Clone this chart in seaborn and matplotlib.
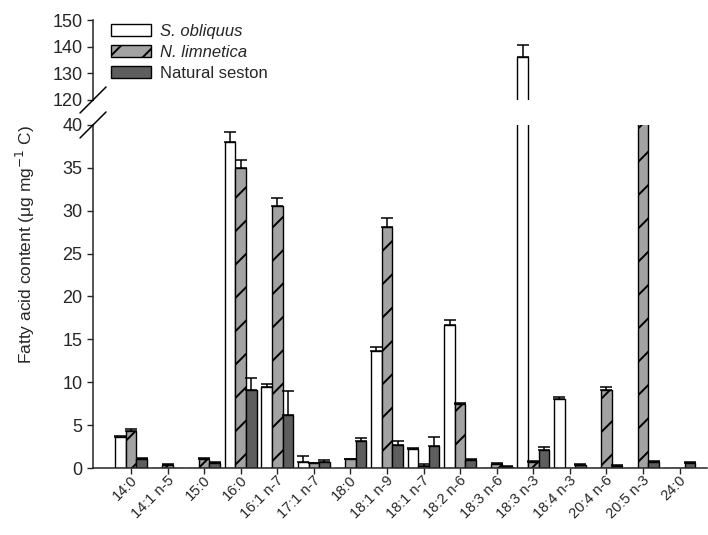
import numpy as np
import pandas as pd
import matplotlib
matplotlib.use("Agg")
import matplotlib.pyplot as plt
import matplotlib.transforms as mtransforms
import seaborn as sns
from matplotlib.patches import Patch
from matplotlib.lines import Line2D

# ---------------- data ----------------
categories = ["14:0", "14:1 n-5", "15:0", "16:0", "16:1 n-7", "17:1 n-7", "18:0",
              "18:1 n-9", "18:1 n-7", "18:2 n-6", "18:3 n-6", "18:3 n-3", "18:4 n-3",
              "20:4 n-6", "20:5 n-3", "24:0"]
species = ["S. obliquus", "N. limnetica", "Natural seston"]

s_obliquus = [3.6, 0, 0, 38.0, 9.5, 0.7, 0, 13.6, 2.2, 16.7, 0, 136.0, 8.0, 0, 0, 0]
s_obliquus_err = [0.1, 0, 0, 1.2, 0.3, 0.75, 0, 0.5, 0.1, 0.55, 0, 4.6, 0.3, 0, 0, 0]
n_limnetica = [4.3, 0.4, 1.05, 35.0, 30.6, 0.55, 1.0, 28.1, 0.25, 7.45, 0.45, 0.75, 0, 9.1, 60.0, 0]
n_limnetica_err = [0.3, 0.1, 0.15, 0.95, 0.9, 0.05, 0.1, 1.0, 0.25, 0.15, 0.15, 0.1, 0, 0.3, 0, 0]
seston = [1.05, 0, 0.55, 9.1, 6.15, 0.75, 3.2, 2.7, 2.6, 0.95, 0.15, 2.1, 0.35, 0.25, 0.65, 0.55]
seston_err = [0.1, 0, 0.1, 1.4, 2.85, 0.15, 0.25, 0.5, 1.0, 0.1, 0.05, 0.3, 0.1, 0.1, 0.15, 0.15]

values = [s_obliquus, n_limnetica, seston]
errors = [s_obliquus_err, n_limnetica_err, seston_err]

df = pd.DataFrame({
    "fa": categories * 3,
    "species": [sp for sp in species for _ in categories],
    "value": s_obliquus + n_limnetica + seston,
})

colors = ["#ffffff", "#a3a3a3", "#5e5e5e"]
hatches = ["", "/", ""]

# ---------------- style ----------------
sns.set_style("ticks")
plt.rcParams["font.family"] = ["Liberation Sans", "DejaVu Sans"]
plt.rcParams["hatch.linewidth"] = 1.4
plt.rcParams["hatch.color"] = "black"

fig = plt.figure(figsize=(7.08, 5.35), dpi=100)
L, R = 0.1314, 0.998
ax_top = fig.add_axes([L, 0.8131, R - L, 0.9626 - 0.8131])
ax = fig.add_axes([L, 0.1252, R - L, 0.7664 - 0.1252])


def draw(axis):
    sns.barplot(data=df, x="fa", y="value", hue="species", order=categories,
                hue_order=species, palette=colors, saturation=1, width=0.87,
                edgecolor="black", linewidth=1.0, errorbar=None, legend=False,
                ax=axis)
    bar_conts = list(axis.containers)[:3]
    for i, cont in enumerate(bar_conts):
        for p in cont:
            p.set_hatch(hatches[i])
        xs, ys, es = [], [], []
        for p, v, e in zip(cont, values[i], errors[i]):
            if v > 0 and e > 0:
                xs.append(p.get_x() + p.get_width() / 2)
                ys.append(p.get_height())
                es.append(e)
        axis.errorbar(xs, ys, yerr=[np.zeros(len(es)), es], fmt="none",
                      ecolor="black", elinewidth=1.1, capsize=4.5, capthick=1.1)
    axis.set_xlim(-1.04, 15.74)
    axis.set_xlabel("")
    axis.set_ylabel("")


draw(ax_top)
draw(ax)

# upper axis
ax_top.set_ylim(120, 150)
ax_top.set_yticks([120, 130, 140, 150])
for s in ["top", "right", "bottom"]:
    ax_top.spines[s].set_visible(False)
ax_top.tick_params(axis="x", bottom=False, labelbottom=False)
ax_top.tick_params(axis="y", direction="out", length=4, width=1, labelsize=13)

# lower axis
ax.set_ylim(0, 40)
ax.set_yticks(np.arange(0, 41, 5))
for s in ["top", "right"]:
    ax.spines[s].set_visible(False)
ax.tick_params(axis="y", direction="out", length=4, width=1, labelsize=13)
ax.tick_params(axis="x", direction="out", length=4, width=1, labelsize=10.5)
shift = mtransforms.ScaledTranslation(4 / 100, 0, fig.dpi_scale_trans)
for lab in ax.get_xticklabels():
    lab.set_rotation(45)
    lab.set_ha("right")
    lab.set_va("center")
    lab.set_rotation_mode("anchor")
    lab.set_transform(lab.get_transform() + shift)

for a in (ax, ax_top):
    for s in a.spines.values():
        s.set_linewidth(1.1)

# break marks on left spine
dx, dy = 13 / 708, 13 / 535
for yb in (0.8131, 0.7664):
    fig.add_artist(Line2D([L - dx, L + dx], [yb - dy, yb + dy],
                          transform=fig.transFigure, color="black", lw=1.1))

# y label
fig.text(0.036, 0.544, "Fatty acid content (μg mg$^{-1}$ C)", rotation=90,
         ha="center", va="center", fontsize=12.5)

# legend
handles = [Patch(facecolor=c, edgecolor="black", hatch=h, linewidth=1.0)
           for c, h in zip(colors, hatches)]
leg = ax_top.legend(handles, species, loc="upper left",
                    bbox_to_anchor=(111 / 708, 1 - 24 / 535),
                    bbox_transform=fig.transFigure, frameon=False, fontsize=12,
                    handlelength=2.4, handleheight=0.75, handletextpad=0.55,
                    labelspacing=0.35, borderpad=0, borderaxespad=0)
leg.get_texts()[0].set_style("italic")
leg.get_texts()[1].set_style("italic")

fig.savefig("out.png", dpi=100)
